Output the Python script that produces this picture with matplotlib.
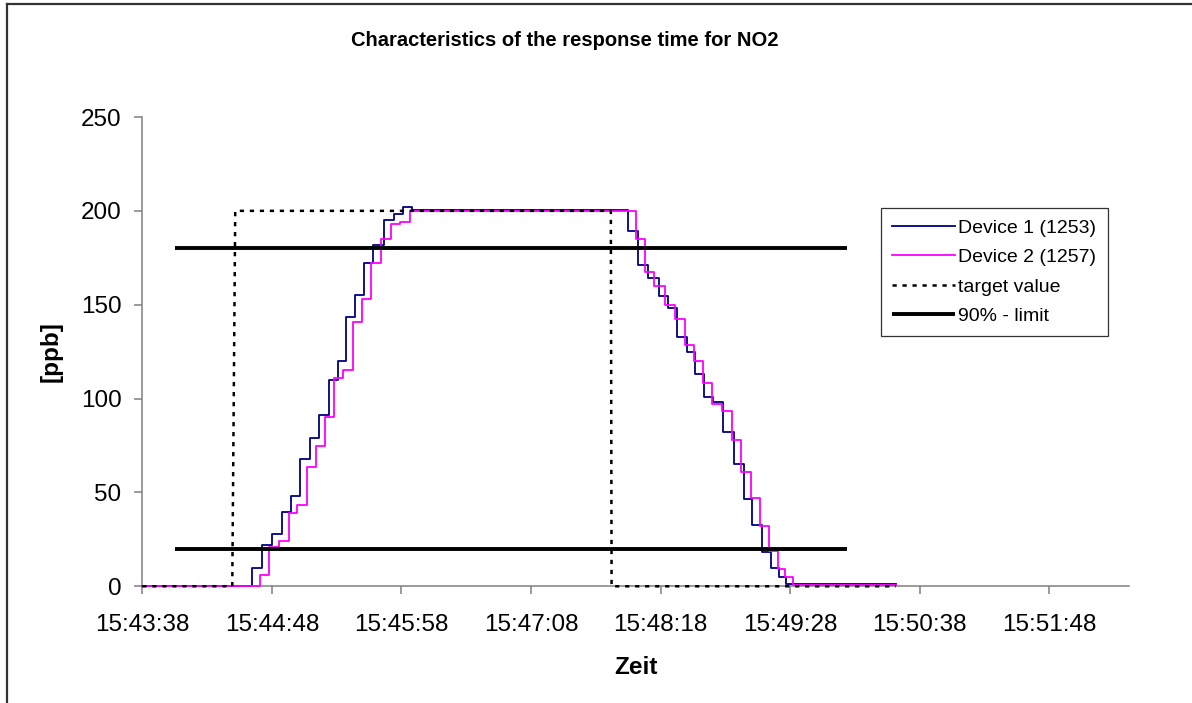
import matplotlib
matplotlib.use("Agg")
import matplotlib.pyplot as plt
from matplotlib.lines import Line2D
import numpy as np

plt.rcParams['font.family'] = ['Liberation Sans', 'DejaVu Sans']

# ---- data (time in seconds after 15:43:38) ----
dev1_t = [0, 59.2, 64.6, 70.0, 75.4, 80.4, 85.3, 90.7, 95.7, 100.6, 105.9, 109.9,
          114.9, 120.0, 124.8, 130.8, 136.0, 141.0, 145.5, 262.5, 267.9, 273.2,
          279.0, 284.0, 288.9, 294.0, 298.4, 303.5, 308.3, 313.7, 319.5, 324.9,
          329.6, 335.0, 339.8, 344.0, 347.9, 407.0]
dev1_v = [0, 10, 22, 28, 39.5, 48, 68, 79, 91, 110, 120, 143.5,
          155, 172, 182, 195, 198.5, 202, 200.5, 189.5, 171, 164.5,
          154.5, 148, 133, 125, 113, 101, 98, 82, 65, 46.5,
          32.5, 18.5, 9.5, 5, 1, 1]

dev2_t = [0, 63.7, 68.7, 73.6, 79.0, 83.8, 88.9, 93.7, 98.8, 103.8, 108.6, 113.7,
          118.6, 123.6, 128.8, 134.2, 139.3, 144.7, 266.6, 271.5, 276.3, 282.2,
          288.0, 293.0, 297.9, 302.9, 308.0, 313.2, 318.6, 323.6, 328.6, 333.5,
          338.5, 343.4, 347.4, 351.5, 407.0]
dev2_v = [0, 6, 21, 24, 39, 43.5, 63.5, 74.5, 90, 111, 115, 141,
          153, 172, 185, 193, 194, 200, 185, 167.5, 160, 150,
          142.5, 128.5, 120, 108.5, 97, 93.5, 78, 61, 47, 32,
          19, 9, 5, 0.5, 0.5]

target_t = [0, 48.6, 50.2, 253.1, 253.5, 407.0]
target_v = [0, 0, 200, 200, 0, 0]

limit_levels = [180, 20]
limit_t = [17.8, 380.8]

tick_labels = ["15:43:38", "15:44:48", "15:45:58", "15:47:08",
               "15:48:18", "15:49:28", "15:50:38", "15:51:48"]
tick_step = 70
x_max = 533

title = "Characteristics of the response time for NO2"

# ---- figure ----
W, H = 1192, 703
fig = plt.figure(figsize=(W / 100, H / 100), dpi=100)
ax = fig.add_axes([142.3 / W, 1 - 586.3 / H, (1129 - 142.3) / W, (586.3 - 117) / H])

ax.plot(dev1_t, dev1_v, drawstyle='steps-post', color='#000080', lw=1.3,
        label='Device 1 (1253)', clip_on=False, zorder=3)
ax.plot(dev2_t, dev2_v, drawstyle='steps-post', color='#FF00FF', lw=1.3,
        label='Device 2 (1257)', clip_on=False, zorder=3)
ax.plot(target_t, target_v, color='black', lw=1.8, dashes=(1.7, 2.3),
        label='target value', clip_on=False, zorder=3)
for i, lv in enumerate(limit_levels):
    ax.plot(limit_t, [lv, lv], color='black', lw=2.8,
            label='90% - limit' if i == 0 else None, solid_capstyle='butt', zorder=3)

ax.set_xlim(0, x_max)
ax.set_ylim(0, 250)
ax.set_yticks(np.arange(0, 251, 50))
ax.set_xticks(np.arange(len(tick_labels)) * tick_step)
ax.set_xticklabels(tick_labels)

for s in ['top', 'right']:
    ax.spines[s].set_visible(False)
for s in ['left', 'bottom']:
    ax.spines[s].set_color('#808080')
    ax.spines[s].set_linewidth(1.1)
ax.tick_params(axis='both', direction='out', length=6, width=1.1, color='#808080',
               labelsize=17.5, labelcolor='black')
ax.tick_params(axis='y', pad=9)
ax.tick_params(axis='x', pad=14)

ax.set_xlabel('Zeit', fontsize=17.5, fontweight='bold')
ax.xaxis.set_label_coords((636 - 142.3) / 986.7, (586.3 - 667) / 469.3)
ax.xaxis.label.set_va('center')
ax.set_ylabel('[ppb]', fontsize=17.5, fontweight='bold')
ax.yaxis.set_label_coords((51 - 142.3) / 986.7, 0.5)
ax.yaxis.label.set_va('center')

fig.text(565 / W, 1 - 41 / H, title, ha='center', va='center',
         fontsize=14.5, fontweight='bold')

leg = ax.legend(loc='upper left', bbox_to_anchor=((880.7 - 142.3) / 986.7, (586.3 - 207.7) / 469.3),
                borderaxespad=0, fontsize=14, frameon=True, fancybox=False,
                edgecolor='black', handlelength=3.2, handletextpad=0.2,
                labelspacing=0.6, borderpad=0.6)
leg.get_frame().set_linewidth(0.9)
leg.set_zorder(5)

# outer chart border (left and top edges visible)
fig.add_artist(Line2D([7 / W, 7 / W], [0, 1 - 3.5 / H], color='#333333', lw=1.6,
                      transform=fig.transFigure))
fig.add_artist(Line2D([7 / W, 1], [1 - 3.5 / H, 1 - 3.5 / H], color='#333333', lw=1.6,
                      transform=fig.transFigure))

fig.savefig('out.png', dpi=100)
